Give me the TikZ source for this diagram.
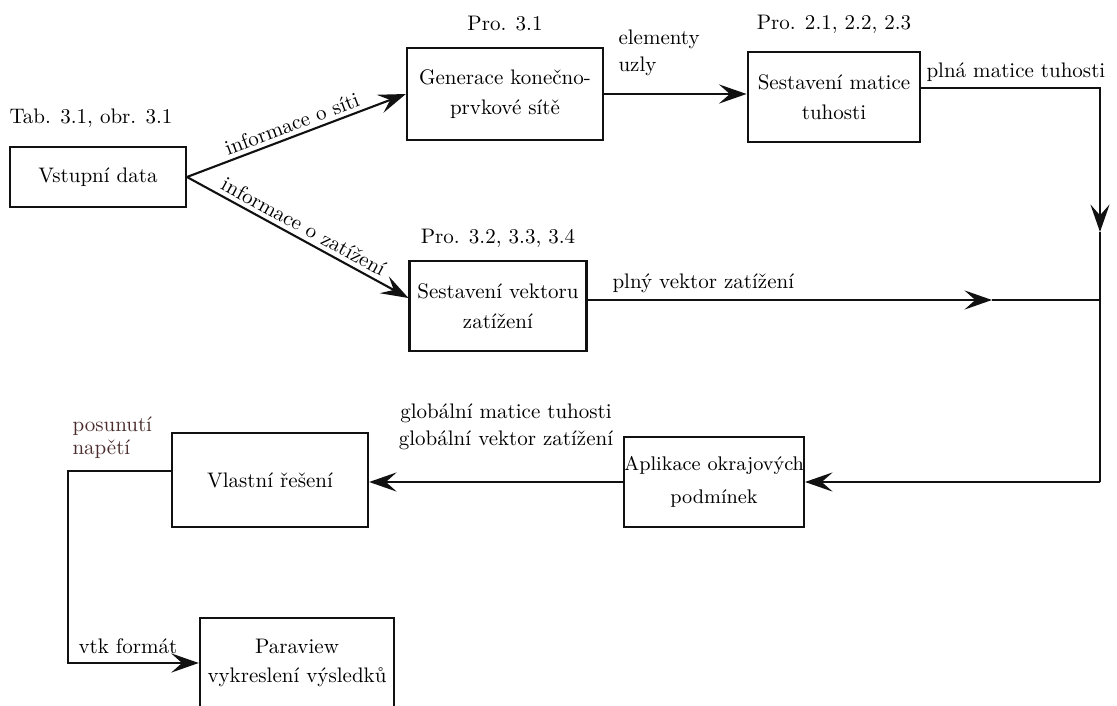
\documentclass[tikz,border=0pt]{standalone}
\usepackage{tikz}
\usepackage{xcolor}
\usetikzlibrary{arrows.meta,positioning,calc}
\definecolor{ink}{HTML}{111111}
\definecolor{brownlabel}{HTML}{4A2C2C}
\tikzset{
  block/.style={draw=ink,line width=1pt,align=center,inner sep=1pt,
                font={\fontsize{10}{14}\selectfont}},
  flowarr/.style={-{Stealth[length=4.6mm,width=3.2mm,inset=1.8mm]},
                  line width=1pt,draw=ink},
  flowline/.style={line width=1pt,draw=ink},
  lbl/.style={inner sep=1pt,font={\fontsize{10}{13}\selectfont}}
}

\begin{document}
\begin{tikzpicture}[x=0.01673cm,y=-0.01673cm]
  \useasboundingbox (0,0) rectangle (1117,706);
  % bloky
  \node[block,minimum width=2.94cm,minimum height=1.00cm] (vstup) at (98,177) {Vstupní data};
  \node[block,minimum width=3.28cm,minimum height=1.54cm] (gen) at (505,94)
    {Generace konečno-\\prvkové sítě};
  \node[block,minimum width=2.89cm,minimum height=1.52cm] (matice) at (834,97)
    {Sestavení matice\\tuhosti};
  \node[block,minimum width=2.96cm,minimum height=1.51cm] (vektor) at (498,306)
    {Sestavení vektoru\\zatížení};
  \node[block,minimum width=2.81cm,minimum height=1.51cm,inner xsep=0pt,
        font={\fontsize{9.4}{16}\selectfont}] (aplik) at (714,482)
    {Aplikace okrajových\\podmínek};
  \node[block,minimum width=3.28cm,minimum height=1.56cm] (vlastni) at (270,480)
    {Vlastní řešení};
  \node[block,minimum width=3.25cm,minimum height=1.51cm] (paraview) at (297,663)
    {Paraview\\vykreslení výsledků};
  % popisky nad bloky
  \node[lbl] (tab) at (91,118) {Tab. 3.1, obr. 3.1};
  \node[lbl] (progen) at (505,24) {Pro. 3.1};
  \node[lbl] (promat) at (834,24) {Pro. 2.1, 2.2, 2.3};
  \node[lbl] (provek) at (498,238) {Pro. 3.2, 3.3, 3.4};
  % pomocne body
  \coordinate (rtop) at (1100,88);
  \coordinate (rmid) at (1100,232);
  \coordinate (rvek) at (1100,300);
  \coordinate (rbot) at (1100,482);
  \coordinate (vekmid) at (992,300);
  \coordinate (lcorner) at (68,471);
  % spoje
  \draw[flowarr] (vstup.east) -- node[lbl,sloped,above=1pt] {informace o síti} (gen.west);
  \draw[flowarr] (vstup.east) -- node[lbl,sloped,above=1pt] {informace o zatížení} ($(vektor.west)+(0,-8)$);
  \draw[flowarr] (gen.east) -- (gen.east -| matice.west);
  \node[lbl,align=left,anchor=north west] (elem) at (616,27) {elementy\\uzly};
  \draw[flowarr] (matice.east |- rtop) -- (rtop) -- (rmid);
  \draw[flowline] (rmid) -- (rbot);
  \node[lbl,anchor=south west] (plnamat) at (924,84) {plná matice tuhosti};
  \draw[flowarr] (vektor.east |- vekmid) -- (vekmid);
  \draw[flowline] (vekmid) -- (rvek);
  \node[lbl,anchor=south west] (plnyvek) at (610,295) {plný vektor zatížení};
  \draw[flowarr] (rbot) -- (aplik.east);
  \draw[flowarr] (aplik.west) -- (aplik.west -| vlastni.east);
  \node[lbl,align=center] (glob) at (506,427) {globální matice tuhosti\\globální vektor zatížení};
  \draw[flowarr] (vlastni.west |- lcorner) -- (lcorner) |- (paraview.west);
  \node[lbl,align=left,text=brownlabel,anchor=south west,
        font={\fontsize{10}{11}\selectfont}] (posun) at (70,461) {posunutí\\napětí};
  \node[lbl,anchor=south west] (vtk) at (76,656) {vtk formát};
\end{tikzpicture}
\end{document}
